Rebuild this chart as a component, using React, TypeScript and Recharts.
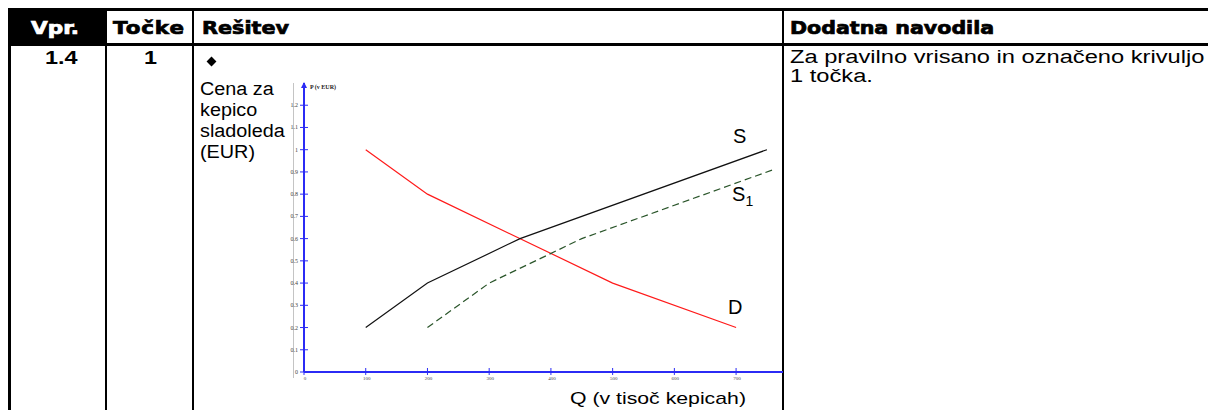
import { LineChart, Line, XAxis, YAxis, LabelList } from 'recharts';

// axis ticks
const qTicks = [0, 100, 200, 300, 400, 500, 600, 700];
const pTicks = [0, 0.1, 0.2, 0.3, 0.4, 0.5, 0.6, 0.7, 0.8, 0.9, 1, 1.1, 1.2];

// demand D
const demandQ = [100, 200, 500, 700];
const demandP = [1.0, 0.8, 0.4, 0.2];
// supply S
const supplyQ = [100, 200, 350, 750];
const supplyP = [0.2, 0.4, 0.6, 1.0];
// shifted supply S1
const supply1Q = [200, 300, 450, 760];
const supply1P = [0.2, 0.4, 0.6, 0.91];

const AXIS = '#2b2bf5';
const SANS = '"Liberation Sans", Arial, sans-serif';
const SERIF = '"Liberation Serif", "Times New Roman", serif';
const HEAD = '"DejaVu Sans", sans-serif';

const toRows = (q: number[], p: number[], name: string) =>
  q.map((x, i) => ({ q: x, p: p[i], tag: i === q.length - 1 ? name : '' }));

const demandRows = toRows(demandQ, demandP, 'D');
const supplyRows = toRows(supplyQ, supplyP, 'S');
const supply1Rows = toRows(supply1Q, supply1P, 'S1');

const YTick = (props: any) => {
  const { x, y, payload } = props;
  const ax = x + 6; // tickSize + tickMargin
  return (
    <g>
      <line x1={ax - 4} x2={ax + 4} y1={y} y2={y} stroke={AXIS} strokeWidth={1} />
      <text x={x} y={y + 2} textAnchor="end" fontSize={6} fontFamily={SERIF} fill="#444">
        {payload.value}
      </text>
    </g>
  );
};

const XTick = (props: any) => {
  const { x, y, payload } = props;
  const ay = y - 6;
  return (
    <g>
      <line x1={x} x2={x} y1={ay - 4} y2={ay + 3} stroke={AXIS} strokeWidth={1} />
      <text x={x + 1} y={ay + 8} textAnchor="middle" fontSize={5} fontFamily={SERIF} fill="#444">
        {payload.value}
      </text>
    </g>
  );
};

// arrow head and caption on top of the price axis
const AxisCap = (props: any) => {
  const vb = props.viewBox;
  if (!vb) return null;
  const ax = vb.x + vb.width;
  const top = vb.y;
  return (
    <g>
      <polygon points={`${ax - 3},${top + 5} ${ax + 3},${top + 5} ${ax},${top - 1}`} fill={AXIS} />
      <text x={ax + 6} y={top + 6} fontSize={6} fontWeight="bold" fontFamily={SERIF} fill="#222">
        P (v EUR)
      </text>
    </g>
  );
};

const curveLabel = (dx: number, dy: number) => (props: any) => {
  const { x, y, value } = props;
  if (!value) return null;
  const sub = value.length > 1 ? value.slice(1) : null;
  return (
    <text x={x + dx} y={y + dy} fontSize={20} fontFamily={SANS} fill="#000">
      {value[0]}
      {sub && (
        <tspan fontSize={14} dy={5}>
          {sub}
        </tspan>
      )}
    </text>
  );
};

const box = (left: number, top: number, w: number, h: number, color = '#000') => (
  <div style={{ position: 'absolute', left, top, width: w, height: h, background: color }} />
);

// wide, heavy header lettering
const head = (extra: any) => ({
  position: 'absolute' as const,
  top: 20,
  fontFamily: HEAD,
  fontWeight: 'bold',
  fontSize: 17,
  lineHeight: '17px',
  whiteSpace: 'nowrap' as const,
  transformOrigin: 'left center',
  WebkitTextStroke: '0.7px currentColor',
  ...extra,
});

export default function App() {
  return (
    <div
      style={{
        position: 'absolute',
        left: 0,
        top: 0,
        width: 1208,
        height: 410,
        overflow: 'hidden',
        background: '#fff',
        fontFamily: SANS,
        color: '#000',
      }}
    >
      {/* table frame */}
      {box(10, 10, 96, 34)}
      {box(8, 8, 1200, 3)}
      {box(8, 43, 1200, 2.5)}
      {box(8, 10, 3, 400)}
      {box(105, 10, 2, 400)}
      {box(192, 10, 2, 400)}
      {box(782, 10, 2, 400)}

      {/* header */}
      <div style={head({ left: 31, color: '#fff', transform: 'scaleX(1.27)' })}>Vpr.</div>
      <div style={head({ left: 113, letterSpacing: '0.7px', transform: 'scaleX(1.26)' })}>Točke</div>
      <div style={head({ left: 202, transform: 'scaleX(1.22)' })}>Rešitev</div>
      <div style={head({ left: 790, transform: 'scaleX(1.21)' })}>Dodatna navodila</div>

      {/* first row */}
      <div style={{ position: 'absolute', left: 45, top: 49, fontWeight: 'bold', fontSize: 18, lineHeight: '18px', transform: 'scaleX(1.3)', transformOrigin: 'left center' }}>
        1.4
      </div>
      <div style={{ position: 'absolute', left: 144, top: 49, fontWeight: 'bold', fontSize: 18, lineHeight: '18px', transform: 'scaleX(1.3)', transformOrigin: 'left center' }}>
        1
      </div>
      <div style={{ position: 'absolute', left: 790, top: 48, fontSize: 18, lineHeight: '19px', whiteSpace: 'nowrap', transform: 'scaleX(1.315)', transformOrigin: 'left top' }}>
        Za pravilno vrisano in označeno krivuljo
        <br />1 točka.
      </div>

      {/* solution cell */}
      <div style={{ position: 'absolute', left: 208, top: 58, width: 7, height: 7, background: '#000', transform: 'rotate(45deg)' }} />
      <div style={{ position: 'absolute', left: 200, top: 79, fontSize: 18, lineHeight: '21px', transform: 'scaleX(1.1)', transformOrigin: 'left top' }}>
        Cena za
        <br />kepico
        <br />sladoleda
        <br />(EUR)
      </div>
      {box(293, 83, 1, 295, '#c4c4c4')}

      <div style={{ position: 'absolute', left: 260, top: 70 }}>
        <LineChart width={540} height={330} margin={{ top: 13, right: 17, left: 0, bottom: 8 }}>
          <XAxis
            type="number"
            dataKey="q"
            domain={[0, 776]}
            ticks={qTicks}
            interval={0}
            height={20}
            tickSize={4}
            tickMargin={2}
            tickLine={false}
            tick={<XTick />}
            axisLine={{ stroke: AXIS, strokeWidth: 2 }}
            allowDuplicatedCategory={false}
          />
          <YAxis
            type="number"
            domain={[0, 1.3]}
            ticks={pTicks}
            interval={0}
            width={44}
            tickSize={4}
            tickMargin={2}
            tickLine={false}
            tick={<YTick />}
            axisLine={{ stroke: AXIS, strokeWidth: 2 }}
            label={<AxisCap />}
          />
          <Line
            data={demandRows}
            dataKey="p"
            type="linear"
            stroke="#ff1a1a"
            strokeWidth={1.2}
            dot={false}
            isAnimationActive={false}
          >
            <LabelList dataKey="tag" content={curveLabel(-8, -14)} />
          </Line>
          <Line
            data={supplyRows}
            dataKey="p"
            type="linear"
            stroke="#111"
            strokeWidth={1.2}
            dot={false}
            isAnimationActive={false}
          >
            <LabelList dataKey="tag" content={curveLabel(-34, -7)} />
          </Line>
          <Line
            data={supply1Rows}
            dataKey="p"
            type="linear"
            stroke="#2a552a"
            strokeWidth={1.2}
            strokeDasharray="7 4"
            dot={false}
            isAnimationActive={false}
          >
            <LabelList dataKey="tag" content={curveLabel(-41, 31)} />
          </Line>
        </LineChart>
      </div>

      <div style={{ position: 'absolute', left: 570, top: 390, fontSize: 17, lineHeight: '17px', whiteSpace: 'nowrap', transform: 'scaleX(1.25)', transformOrigin: 'left top' }}>
        Q (v tisoč kepicah)
      </div>
    </div>
  );
}
